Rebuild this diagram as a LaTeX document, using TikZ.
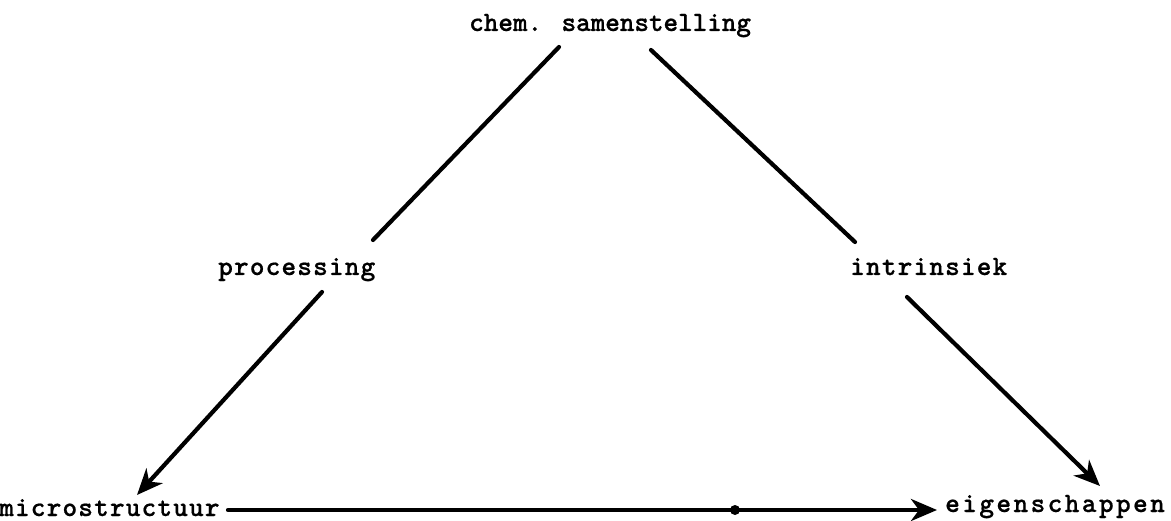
\documentclass[tikz,border=0pt]{standalone}
\usepackage{fontspec}
\usetikzlibrary{arrows.meta}
\newfontfamily\twfont[LetterSpace=4,FakeBold=0.6]{lmmonolt10-bold.otf}
\newfontfamily\twfontnarrow[LetterSpace=-0.5,FakeBold=0.6]{lmmonolt10-bold.otf}
\newfontfamily\twfontwide[LetterSpace=8.5,FakeBold=0.6]{lmmonolt10-bold.otf}
\begin{document}
\begin{tikzpicture}[x=1pt,y=-1pt,
  lbl/.style={anchor=base west,inner sep=0pt,font=\twfont\fontsize{28}{32}\selectfont},
  lblnarrow/.style={lbl,font=\twfontnarrow\fontsize{28}{32}\selectfont},
  lblwide/.style={lbl,font=\twfontwide\fontsize{28}{32}\selectfont},
  conn/.style={line width=4.2pt,line cap=round},
  arr/.style={conn,-{Stealth[length=26pt,width=22pt,inset=8pt]}}]
\useasboundingbox (0,0) rectangle (1171,521);
\node[lblnarrow] (chem) at (469,31) {chem. samenstelling};
\node[lbl] (proc) at (218,275) {processing};
\node[lbl] (intr) at (850,275) {intrinsiek};
\node[lbl] (micro) at (-1,516) {microstructuur};
\node[lblwide] (eig) at (945,512) {eigenschappen};
\coordinate (c1) at (559,47);
\coordinate (p1) at (373,240);
\coordinate (p2) at (322,292);
\coordinate (m1) at (137,495);
\coordinate (c2) at (651,50);
\coordinate (i1) at (855,242);
\coordinate (i2) at (907,297);
\coordinate (e1) at (1100,486);
\coordinate (m2) at (228,510);
\coordinate (e2) at (937,510);
\coordinate (dot) at (735,510);
\draw[conn] (c1) -- (p1);
\draw[arr] (p2) -- (m1);
\draw[conn] (c2) -- (i1);
\draw[arr] (i2) -- (e1);
\draw[arr] (m2) -- (e2);
\fill (dot) circle (5);
\end{tikzpicture}
\end{document}
